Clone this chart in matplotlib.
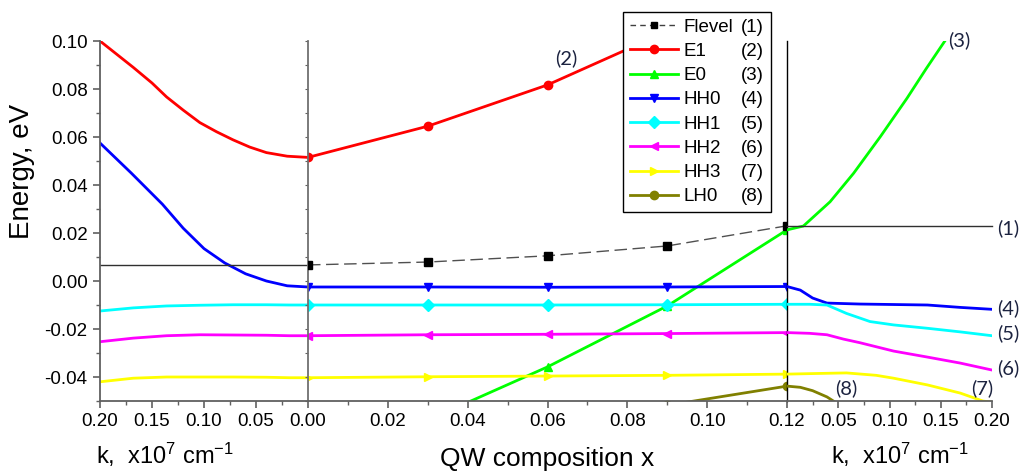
import numpy as np
import matplotlib
matplotlib.use('Agg')
import matplotlib.pyplot as plt
from matplotlib.lines import Line2D

plt.rcParams.update({
    'font.family': 'Liberation Sans',
    'font.size': 13.5,
    'axes.unicode_minus': False,
    'mathtext.fontset': 'custom',
    'mathtext.rm': 'Liberation Sans',
    'mathtext.default': 'regular',
})

# ---- datos: panel izquierdo (k, invertido) ----
k_e1_left = [0.20, 0.184, 0.168, 0.150, 0.136, 0.120, 0.104, 0.088, 0.072, 0.056, 0.040, 0.020, 0.0]
e1_left = [0.100, 0.0945, 0.089, 0.0825, 0.0767, 0.0712, 0.066, 0.0622, 0.0588, 0.0558, 0.0535, 0.0520, 0.0515]
k_hh0_left = [0.20, 0.17, 0.14, 0.12, 0.10, 0.08, 0.06, 0.04, 0.02, 0.0]
hh0_left = [0.0575, 0.045, 0.032, 0.022, 0.0135, 0.0075, 0.003, 0.0, -0.002, -0.0025]
k_left = [0.20, 0.168, 0.136, 0.104, 0.072, 0.040, 0.018, 0.0]
hh1_left = [-0.0125, -0.0112, -0.0104, -0.0101, -0.0099, -0.0099, -0.0100, -0.0100]
hh2_left = [-0.0253, -0.0238, -0.0228, -0.0224, -0.0225, -0.0226, -0.0228, -0.0228]
hh3_left = [-0.0420, -0.0405, -0.0400, -0.0400, -0.0400, -0.0401, -0.0403, -0.0403]
flevel_left = 0.0067

# ---- datos: panel central (composicion x) ----
x_qw = [0.0, 0.03, 0.06, 0.09, 0.12]
flevel_mid = [0.0067, 0.0079, 0.0105, 0.0146, 0.0230]
e1_mid = [0.0515, 0.0645, 0.0817, 0.104, 0.128]
e0_mid = [-0.090, -0.058, -0.0358, -0.0104, 0.0213]
hh0_mid = [-0.0025, -0.0025, -0.0026, -0.0025, -0.0023]
hh1_mid = [-0.0100, -0.0100, -0.0100, -0.0099, -0.0097]
hh2_mid = [-0.0228, -0.0224, -0.0222, -0.0219, -0.0215]
hh3_mid = [-0.0403, -0.0399, -0.0396, -0.0393, -0.0388]
lh0_mid = [-0.070, -0.065, -0.060, -0.0518, -0.0438]

# ---- datos: panel derecho (k) ----
k_e0_right = [0.0, 0.016, 0.042, 0.065, 0.091, 0.117, 0.136, 0.154]
e0_right = [0.0213, 0.0229, 0.033, 0.0449, 0.0601, 0.0761, 0.0886, 0.100]
k_hh0_right = [0.0, 0.013, 0.025, 0.039, 0.071, 0.137, 0.169, 0.20]
hh0_right = [-0.0023, -0.0038, -0.0071, -0.0092, -0.0096, -0.0100, -0.0110, -0.0118]
k_hh1_right = [0.0, 0.022, 0.039, 0.058, 0.081, 0.104, 0.137, 0.169, 0.20]
hh1_right = [-0.0097, -0.0097, -0.0100, -0.0135, -0.0169, -0.0183, -0.0197, -0.0212, -0.0228]
k_hh2_right = [0.0, 0.022, 0.039, 0.055, 0.071, 0.104, 0.137, 0.169, 0.20]
hh2_right = [-0.0215, -0.0218, -0.0224, -0.0242, -0.0257, -0.0292, -0.0317, -0.0342, -0.0371]
k_hh3_right = [0.0, 0.022, 0.058, 0.087, 0.104, 0.137, 0.169, 0.191, 0.20]
hh3_right = [-0.0388, -0.0386, -0.0383, -0.0393, -0.0405, -0.0433, -0.0467, -0.0500, -0.0505]
k_lh0_right = [0.0, 0.013, 0.025, 0.039, 0.047, 0.055]
lh0_right = [-0.0438, -0.0443, -0.0457, -0.0483, -0.0505, -0.053]
flevel_right = 0.0230

nombres = ['Flevel', 'E1', 'E0', 'HH0', 'HH1', 'HH2', 'HH3', 'LH0']
numeros = ['(1)', '(2)', '(3)', '(4)', '(5)', '(6)', '(7)', '(8)']
colores = ['black', '#ff0000', '#00ff00', '#0000ff', '#00ffff', '#ff00ff', '#ffff00', '#808000']
marcadores = ['s', 'o', '^', 'v', 'D', '<', '>', 'o']

W, H = 1019, 471
fig = plt.figure(figsize=(W / 100, H / 100), dpi=100)
bot = 1 - 401 / H
alto = 360 / H
axL = fig.add_axes([100 / W, bot, 208 / W, alto])
axM = fig.add_axes([308 / W, bot, 479 / W, alto], sharey=axL)
axR = fig.add_axes([787 / W, bot, 205 / W, alto], sharey=axL)

lw = 2.0
spc = '#606060'

# panel izquierdo
axL.plot(k_e1_left, e1_left, color=colores[1], lw=lw)
axL.plot(k_hh0_left, hh0_left, color=colores[3], lw=lw)
axL.plot(k_left, hh1_left, color=colores[4], lw=lw)
axL.plot(k_left, hh2_left, color=colores[5], lw=lw)
axL.plot(k_left, hh3_left, color=colores[6], lw=lw)
axL.axhline(flevel_left, color='#303030', lw=1.0)

# panel central
series_mid = [flevel_mid, e1_mid, e0_mid, hh0_mid, hh1_mid, hh2_mid, hh3_mid, lh0_mid]
for i, ys in enumerate(series_mid):
    if i == 0:
        axM.plot(x_qw, ys, color='#505050', lw=1.0, ls=(0, (9, 4)), marker='s',
                 ms=5.5, mfc='black', mec='black', zorder=5)
    else:
        axM.plot(x_qw, ys, color=colores[i], lw=lw, marker=marcadores[i], ms=6)

# panel derecho
axR.plot(k_e0_right, e0_right, color=colores[2], lw=lw)
axR.plot(k_hh0_right, hh0_right, color=colores[3], lw=lw)
axR.plot(k_hh1_right, hh1_right, color=colores[4], lw=lw)
axR.plot(k_hh2_right, hh2_right, color=colores[5], lw=lw)
axR.plot(k_hh3_right, hh3_right, color=colores[6], lw=lw)
axR.plot(k_lh0_right, lh0_right, color=colores[7], lw=lw)
axR.axhline(flevel_right, color='#303030', lw=1.0, clip_on=False)

# ejes
axL.set_ylim(-0.05, 0.10)
axL.set_xlim(0.20, 0.0)
axM.set_xlim(0.0, 0.12)
axR.set_xlim(0.0, 0.20)

fmt = matplotlib.ticker.FormatStrFormatter('%.2f')
axL.set_yticks(np.arange(-0.04, 0.101, 0.02))
axL.set_yticks(np.arange(-0.05, 0.101, 0.01), minor=True)
axL.yaxis.set_major_formatter(fmt)
axL.set_xticks([0.20, 0.15, 0.10, 0.05])
axL.set_xticks(np.arange(0.025, 0.2, 0.025), minor=True)
axL.xaxis.set_major_formatter(fmt)
axM.set_xticks(np.arange(0.0, 0.121, 0.02))
axM.set_xticks(np.arange(0.01, 0.12, 0.01), minor=True)
axM.xaxis.set_major_formatter(fmt)
axR.set_xticks([0.05, 0.10, 0.15, 0.20])
axR.set_xticks(np.arange(0.025, 0.2, 0.025), minor=True)
axR.xaxis.set_major_formatter(fmt)

for ax in (axL, axM, axR):
    ax.spines['top'].set_visible(False)
    for s in ax.spines.values():
        s.set_color(spc)
        s.set_linewidth(1.3)
    ax.tick_params(which='major', direction='out', length=5, width=1.2, color=spc, labelsize=13.5, pad=4)
    ax.tick_params(which='minor', direction='out', length=3, width=1.0, color=spc)
    ax.patch.set_alpha(0)

axL.spines['right'].set_visible(False)
axR.spines['left'].set_visible(False)
axR.spines['right'].set_visible(False)
axM.spines['left'].set_color('#707070')
axM.spines['right'].set_color('black')
axM.spines['right'].set_linewidth(1.0)
axM.tick_params(axis='y', which='both', left=True, labelleft=False, length=2, width=0.8)
axR.tick_params(axis='y', which='both', left=False, labelleft=False)

# etiquetas
lab_k = r'k,  x10$^{7}$ cm$^{-1}$'
fig.text(165 / W, 1 - 455 / H, lab_k, ha='center', va='center', fontsize=17)
fig.text(547 / W, 1 - 459 / H, 'QW composition x', ha='center', va='center', fontsize=19)
fig.text(900 / W, 1 - 455 / H, lab_k, ha='center', va='center', fontsize=17)
fig.text(22 / W, 1 - 171 / H, 'Energy, eV', ha='center', va='center', rotation=90, fontsize=20)

# numeros de curva
txt = dict(fontsize=14.5, color='#1c2340', family='Lato', clip_on=False)
axM.text(0.0646, 0.093, '(2)', ha='center', va='center', **txt)
axR.text(0.168, 0.1005, '(3)', ha='center', va='center', **txt)
axR.text(0.205, 0.0222, '(1)', ha='left', va='center', **txt)
axR.text(0.205, -0.0113, '(4)', ha='left', va='center', **txt)
axR.text(0.205, -0.0217, '(5)', ha='left', va='center', **txt)
axR.text(0.205, -0.0363, '(6)', ha='left', va='center', **txt)
axR.text(0.190, -0.0446, '(7)', ha='center', va='center', **txt)
axR.text(0.0576, -0.0446, '(8)', ha='center', va='center', **txt)

# leyenda
handles = [Line2D([], [], color='#404040', lw=1.0, ls=(0, (4, 3)), marker='s', ms=5,
                  mfc='black', mec='black')]
for i in range(1, 8):
    handles.append(Line2D([], [], color=colores[i], lw=lw, marker=marcadores[i], ms=6))
vacios = [Line2D([], [], ls='none') for _ in numeros]
hl = 2.6
htp = 0.3
leg = fig.legend(handles + vacios, nombres + numeros, ncol=2,
                 loc='upper left', bbox_to_anchor=(623 / W, 1 - 12 / H),
                 fontsize=13.5, handlelength=hl, handletextpad=htp,
                 columnspacing=-(hl + htp) + 0.4, labelspacing=0.38,
                 borderpad=0.35, borderaxespad=0, fancybox=False,
                 framealpha=1, edgecolor='black')
leg.get_frame().set_linewidth(1.0)

fig.savefig('out.png', dpi=100)
